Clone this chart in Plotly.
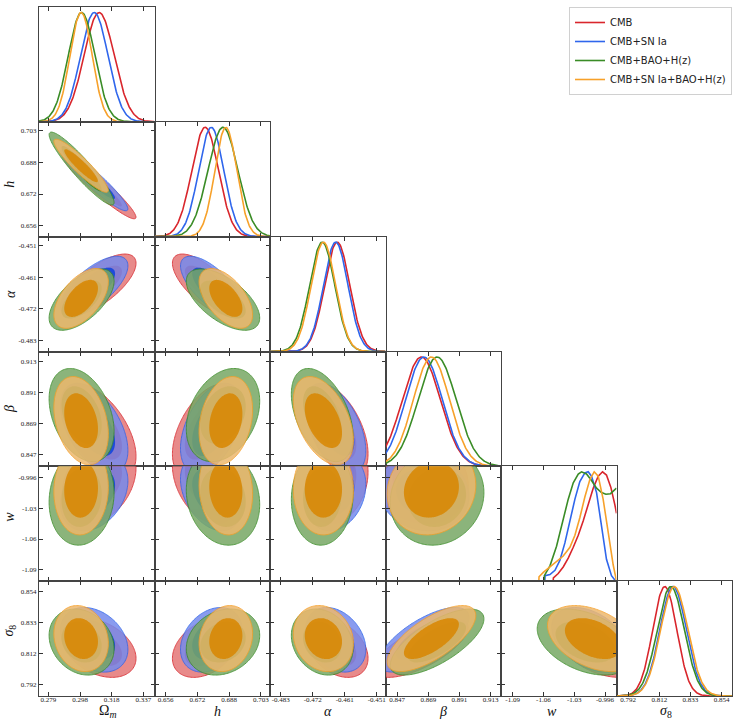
import numpy as np
import plotly.graph_objects as go
from plotly.subplots import make_subplots
from itertools import combinations

# datasets, in drawing order
names = ["CMB", "CMB+SN Ia", "CMB+BAO+H(z)", "CMB+SN Ia+BAO+H(z)"]
line_colors = ["#d9262c", "#2f66ec", "#3a8c26", "#f7a12a"]
outer_fill = ["#e47676", "#758aed", "#77a865", "#edb86e"]
inner_fill = ["#d42020", "#0d43dd", "#2f841c", "#d88600"]

# parameters: Omega_m, h, alpha, beta, w, sigma_8
param_labels = ["Ω<sub><i>m</i></sub>", "<i>h</i>", "<i>α</i>", "<i>β</i>", "<i>w</i>", "<i>σ</i><sub>8</sub>"]
axis_lo = [0.2733, 0.6505, -0.4866, 0.8388, -1.1018, 0.7843]
axis_hi = [0.3438, 0.7075, -0.4481, 0.9203, -0.9843, 0.8609]
tick_text = [
    ["0.279", "0.298", "0.318", "0.337"],
    ["0.656", "0.672", "0.688", "0.703"],
    ["-0.483", "-0.472", "-0.461", "-0.451"],
    ["0.847", "0.869", "0.891", "0.913"],
    ["-1.09", "-1.06", "-1.03", "-0.996"],
    ["0.792", "0.812", "0.833", "0.854"],
]

# posterior summaries (mean, sigma per parameter)
mean_cmb = [0.3100, 0.6755, -0.4642, 0.8641, -0.999, 0.8163]
mean_sn = [0.3070, 0.6785, -0.4647, 0.8659, -1.011, 0.8218]
mean_bao = [0.2993, 0.6843, -0.4692, 0.8752, -1.016, 0.8203]
mean_all = [0.2990, 0.6857, -0.4688, 0.8712, -1.008, 0.8226]

sigma_cmb = [0.0092, 0.0066, 0.0042, 0.0135, 0.018, 0.0080]
sigma_sn = [0.0084, 0.0062, 0.0041, 0.0130, 0.016, 0.0088]
sigma_bao = [0.0081, 0.0074, 0.0042, 0.0135, 0.020, 0.0090]
sigma_all = [0.0068, 0.0054, 0.0041, 0.0128, 0.019, 0.0090]

# correlations, pair order: (Om,h) (Om,a) (Om,b) (Om,w) (Om,s8) (h,a) (h,b) (h,w) (h,s8)
#                           (a,b) (a,w) (a,s8) (b,w) (b,s8) (w,s8)
corr_cmb = [-0.95, 0.70, -0.55, 0.30, -0.35, -0.70, 0.50, -0.35, 0.35, -0.50, 0.20, -0.35, -0.10, 0.70, -0.40]
corr_sn = [-0.94, 0.68, -0.50, 0.30, -0.30, -0.68, 0.45, -0.35, 0.30, -0.50, 0.20, -0.30, -0.10, 0.70, -0.40]
corr_bao = [-0.93, 0.60, -0.35, 0.10, -0.20, -0.60, 0.30, -0.15, 0.20, -0.45, 0.05, -0.20, 0.10, 0.70, -0.40]
corr_all = [-0.92, 0.55, -0.30, 0.05, -0.15, -0.55, 0.25, -0.10, 0.15, -0.45, 0.00, -0.15, 0.10, 0.70, -0.40]

# w marginals are far from gaussian
w_x_cmb = [-1.0588, -1.0487, -1.0485, -1.0436, -1.0385, -1.0334, -1.0283, -1.0232, -1.0182, -1.0131,
           -1.0080, -1.0029, -0.9985, -0.9945, -0.9901, -0.9860, -0.9843]
w_y_cmb = [0, 0, 0.03, 0.07, 0.13, 0.21, 0.31, 0.42, 0.55, 0.70, 0.85, 0.96, 1.0, 0.97, 0.86, 0.70, 0.62]
w_x_sn = [-1.0605, -1.0572, -1.0570, -1.0520, -1.0469, -1.0419, -1.0368, -1.0317, -1.0266, -1.0216,
          -1.0165, -1.0131, -1.0097, -1.0046, -0.9995, -0.9945, -0.9894, -0.9850]
w_y_sn = [0, 0, 0.05, 0.06, 0.10, 0.19, 0.35, 0.55, 0.75, 0.91, 0.99, 1.0, 0.96, 0.81, 0.50, 0.20, 0.05, 0.0]
w_x_bao = [-1.0605, -1.0579, -1.0577, -1.0520, -1.0453, -1.0385, -1.0334, -1.0283, -1.0232, -1.0199,
           -1.0148, -1.0097, -1.0046, -0.9995, -0.9951, -0.9904, -0.9843]
w_y_bao = [0, 0, 0.05, 0.14, 0.32, 0.57, 0.75, 0.90, 0.98, 1.0, 0.98, 0.92, 0.85, 0.81, 0.795, 0.80, 0.85]
w_x_all = [-1.0740, -1.0633, -1.0631, -1.0588, -1.0520, -1.0453, -1.0385, -1.0317, -1.0266, -1.0216,
           -1.0165, -1.0114, -1.0070, -1.0029, -0.9979, -0.9928, -0.9877, -0.9843]
w_y_all = [0, 0, 0.04, 0.08, 0.13, 0.18, 0.23, 0.31, 0.42, 0.58, 0.77, 0.93, 1.0, 0.96, 0.75, 0.45, 0.15, 0.0]

means = [mean_cmb, mean_sn, mean_bao, mean_all]
sigmas = [sigma_cmb, sigma_sn, sigma_bao, sigma_all]
corrs = [corr_cmb, corr_sn, corr_bao, corr_all]
w_curves = [(w_x_cmb, w_y_cmb), (w_x_sn, w_y_sn), (w_x_bao, w_y_bao), (w_x_all, w_y_all)]

pairs = list(combinations(range(6), 2))
n = 6
serif = "Liberation Serif"

fig = make_subplots(rows=n, cols=n, horizontal_spacing=0, vertical_spacing=0)

# 1D marginals
for i in range(n):
    for d in range(4):
        if i == 4:
            xs, ys = w_curves[d]
        else:
            xs = np.linspace(axis_lo[i], axis_hi[i], 200)
            ys = np.exp(-0.5 * ((xs - means[d][i]) / sigmas[d][i]) ** 2)
        fig.add_trace(go.Scatter(x=xs, y=ys, mode="lines", name=names[d],
                                 showlegend=(i == 0), line=dict(color=line_colors[d], width=1.6),
                                 hoverinfo="skip"),
                      row=i + 1, col=i + 1)

# 2D contours (68% and 95%); plotly shades the excluded side of a constraint,
# so '>' shades the inside of the credible region
for i in range(1, n):
    for j in range(i):
        pad_x = 0.15 * (axis_hi[j] - axis_lo[j])
        pad_y = 0.15 * (axis_hi[i] - axis_lo[i])
        gx = np.linspace(axis_lo[j] - pad_x, axis_hi[j] + pad_x, 110)
        gy = np.linspace(axis_lo[i] - pad_y, axis_hi[i] + pad_y, 110)
        X, Y = np.meshgrid(gx, gy)
        for d in range(4):
            r = corrs[d][pairs.index((j, i))]
            dx = (X - means[d][j]) / sigmas[d][j]
            dy = (Y - means[d][i]) / sigmas[d][i]
            chi2 = (dx ** 2 - 2 * r * dx * dy + dy ** 2) / (1 - r ** 2)
            for level, fillc, lw in [(5.99, outer_fill[d], 1.0), (2.30, inner_fill[d], 0)]:
                fig.add_trace(go.Contour(
                    x=gx, y=gy, z=chi2, showscale=False, hoverinfo="skip", opacity=0.85,
                    contours=dict(type="constraint", operation=">", value=level),
                    fillcolor=fillc, line=dict(color=line_colors[d], width=lw, smoothing=1),
                    showlegend=False),
                    row=i + 1, col=j + 1)

tick_font = dict(family=serif, size=7, color="#222")
for i in range(n):
    for j in range(n):
        if j > i:
            fig.update_xaxes(visible=False, row=i + 1, col=j + 1)
            fig.update_yaxes(visible=False, row=i + 1, col=j + 1)
            continue
        tv = np.linspace(float(tick_text[j][0]), float(tick_text[j][-1]), 4)
        fig.update_xaxes(range=[axis_lo[j], axis_hi[j]], tickvals=tv, ticktext=tick_text[j],
                         ticks="inside", ticklen=4, tickcolor="#333", mirror="ticks",
                         showline=True, linecolor="#444", linewidth=1, showgrid=False,
                         zeroline=False, showticklabels=(i == n - 1), tickfont=tick_font,
                         ticklabelstandoff=-3, row=i + 1, col=j + 1)
        if i == j:
            fig.update_yaxes(range=[0, 1.05], ticks="", showticklabels=False, showline=True,
                             mirror=True, linecolor="#444", linewidth=1, showgrid=False,
                             zeroline=False, row=i + 1, col=j + 1)
        else:
            tv = np.linspace(float(tick_text[i][0]), float(tick_text[i][-1]), 4)
            fig.update_yaxes(range=[axis_lo[i], axis_hi[i]], tickvals=tv, ticktext=tick_text[i],
                             ticks="inside", ticklen=4, tickcolor="#333", mirror="ticks",
                             showline=True, linecolor="#444", linewidth=1, showgrid=False,
                             zeroline=False, showticklabels=(j == 0), tickfont=tick_font,
                             row=i + 1, col=j + 1)

# axis labels
for k in range(n):
    fig.add_annotation(text=param_labels[k], xref="paper", yref="paper", x=(k + 0.5) / n, y=0,
                       yanchor="middle", yshift=-15, showarrow=False,
                       font=dict(family=serif, size=14, color="#111"))
    if k > 0:
        fig.add_annotation(text=param_labels[k], xref="paper", yref="paper", x=0, y=1 - (k + 0.5) / n,
                           xanchor="center", xshift=-29, textangle=-90, showarrow=False,
                           font=dict(family=serif, size=14, color="#111"))

fig.update_layout(
    width=741, height=723,
    margin=dict(l=39, r=9, t=7, b=27),
    plot_bgcolor="white", paper_bgcolor="white",
    legend=dict(x=1, y=1, xanchor="right", yanchor="top", bgcolor="white",
                bordercolor="#d0d0d0", borderwidth=1, itemwidth=30, tracegroupgap=0,
                font=dict(family="DejaVu Sans", size=10, color="#222")),
)

# drop the default 8px body margin so the figure fills the window
fig.write_html("out.html", config={"displayModeBar": False},
               post_script="document.body.style.margin='0px';")
